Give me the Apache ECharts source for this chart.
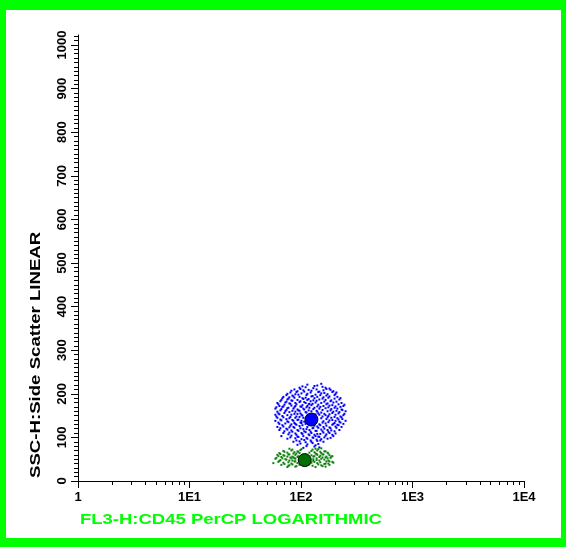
<!DOCTYPE html>
<html><head><meta charset="utf-8">
<script src="https://cdn.jsdelivr.net/npm/echarts@6/dist/echarts.min.js"></script>
<style>html,body{margin:0;padding:0;background:#fff}#c{width:566px;height:547px}</style>
</head><body><div id="c"></div>
<script>
const xTickValues = [1, 10, 100, 1000, 10000];
const xTickLabels = ['1', '1E1', '1E2', '1E3', '1E4'];
const xMinorTicks = [2,3,4,5,6,7,8,9,20,30,40,50,60,70,80,90,200,300,400,500,600,700,800,900,2000,3000,4000,5000,6000,7000,8000,9000];
const yTickValues = [0,100,200,300,400,500,600,700,800,900,1000];
const yTickLabels = ['0','100','200','300','400','500','600','700','800','900','1000'];
const yMax = 1023;
const xTitle = 'FL3-H:CD45 PerCP LOGARITHMIC';
const yTitle = 'SSC-H:Side Scatter LINEAR';

const bluePoints = [
[114,221],[140,219],[152,223],
[97,214],[110,215],[129,213],[166,214],[180,212],
[82,207],[93,206],[105,208],[124,207],[146,205],[159,208],[195,206],
[75.5,200],[89,199],[101,201],[114,200],[135,198],[152,201],[173,199],[204,200],
[69.5,193],[78.7,192],[85.5,194],[97,193],[110,191],[124,194],[140,193],[159,192],[180,194],[212,193],
[66.7,186],[75.5,187],[82,185],[93,186],[105,188],[114,186],[129,185],[146,187],[166,186],[187,185],[221,187],
[61.4,179],[72.4,180],[78.7,178],[89,179],[97,181],[110,179],[119,177],[135,180],[152,179],[173,178],[195,180],[231,179],
[64,172],[69.5,171],[82,173],[89,172],[101,170],[114,172],[124,174],[140,171],[159,172],[180,173],[204,171],[240,172],
[58.9,166],[66.7,165],[75.5,167],[85.5,166],[93,164],[105,166],[119,168],[129,165],[146,166],[166,167],[187,165],[212,166],[231,164],
[61.4,159],[72.4,160],[78.7,158],[89,159],[97,161],[110,158],[124,160],[140,159],[152,157],[173,160],[195,159],[221,158],[251,160],
[58.9,152],[64,153],[75.5,151],[82,152],[93,154],[101,152],[114,150],[135,153],[146,152],[166,151],[180,153],[204,152],[240,151],
[61.4,145],[69.5,146],[78.7,144],[89,145],[97,147],[105,145],[152,144],[173,146],[187,145],[212,144],[231,146],
[58.9,138],[66.7,139],[75.5,137],[85.5,138],[93,140],[101,138],[159,137],[180,139],[204,138],[221,136],[251,138],
[64,131],[72.4,132],[82,130],[89,131],[101,133],[110,131],[146,130],[166,132],[195,131],[212,129],[240,131],
[61.4,124],[69.5,125],[78.7,123],[85.5,124],[97,126],[114,124],[129,122],[140,125],[159,124],[180,123],[204,125],[231,124],
[64,117],[75.5,118],[82,116],[93,117],[105,119],[119,117],[135,115],[152,118],[173,117],[187,116],[221,117],
[69.5,110],[78.7,111],[89,109],[101,110],[110,112],[124,110],[140,108],[159,111],[180,110],[204,109],
[66.7,103],[82,104],[93,102],[105,103],[119,105],[135,103],[146,101],[166,104],[195,103],
[75.5,97],[89,98],[101,96],[114,97],[129,99],[152,96],[173,97],
[85.5,90],[97,91],[110,89],[124,90],[140,92],[159,90],
[93,83],[114,84],[135,82],
[105,76],[146,77],
[103,217],[132,218],[156,216],
[87.3,210],[98.8,211],[117,209],[138,210],[169,211],[184,209],
[80.3,203],[91,204],[107,205],[122,203],[143,204],[162,202],[191,204],[208,203],
[74,197],[83.7,196],[94.8,198],[112,197],[127,195],[149,197],[169,196],[200,197],
[68.1,190],[77.1,189],[87.3,191],[103,190],[117,188],[132,190],[156,189],[176,191],[200,189],[226,190],
[65.3,183],[74,182],[83.7,184],[98.8,183],[107,181],[122,183],[138,184],[162,182],[184,183],[208,182],
[62.7,176],[71,175],[80.3,177],[91,176],[103,174],[117,176],[127,177],[143,175],[169,176],[191,174],[217,176],[245,175],
[60.1,169],[68.1,170],[77.1,168],[87.3,169],[98.8,171],[112,169],[132,168],[149,170],[176,169],[200,168],[226,170],
[65.3,162],[74,163],[83.7,161],[94.8,162],[107,164],[117,162],[138,161],[156,163],[184,162],[208,161],[235,163],
[62.7,155],[71,156],[87.3,154],[98.8,155],[112,157],[143,155],[162,154],[191,156],[217,155],[245,154],
[60.1,148],[68.1,149],[80.3,147],[91,148],[103,150],[156,148],[176,149],[200,147],[226,148],
[65.3,141],[74,142],[83.7,140],[94.8,141],[169,142],[191,140],[217,141],[235,142],
[62.7,134],[77.1,135],[87.3,133],[98.8,134],[107,136],[156,134],[176,135],[200,133],[226,134],
[68.1,128],[80.3,127],[91,129],[103,128],[117,130],[132,127],[149,128],[169,127],[191,129],[217,128],
[65.3,121],[74,120],[87.3,122],[98.8,121],[112,119],[127,121],[143,122],[162,120],[184,121],[208,122],
[71,114],[83.7,113],[94.8,115],[107,114],[122,113],[138,115],[156,114],[176,113],[200,114],
[77.1,107],[91,106],[103,108],[117,107],[132,106],[149,108],[169,107],[191,106],
[80.3,100],[94.8,101],[112,99],[127,100],[143,102],[162,100],[184,99],
[91,93],[107,94],[122,93],[138,95],[149,93],
[98.8,86],[127,87],[143,85],
[112,80],[132,79]
];

const greenPoints = [
[78.7,74],[101,73],[135,74],[152,75],
[69.5,69],[82,70],[93,68],[124,69],[140,70],[166,68],
[64,64],[75.5,65],[85.5,63],[97,64],[119,65],[135,63],[152,64],[173,65],
[61.4,60],[69.5,59],[78.7,61],[89,60],[124,59],[140,60],[159,61],[180,59],
[66.7,55],[75.5,56],[85.5,54],[93,55],[129,56],[146,55],[166,54],[187,56],
[58.9,51],[72.4,50],[82,52],[89,51],[129,50],[152,51],[173,52],
[64,46],[78.7,47],[89,45],[129,46],[146,47],[180,45],
[56.5,41],[69.5,42],[82,40],[93,41],[124,42],[140,41],[166,40],[195,42],
[66.7,37],[78.7,36],[97,37],[119,38],[152,36],[180,37],
[75.5,32],[89,33],[135,32],[166,33],
[83.7,72],[98.8,71],[127,72],[143,73],
[71,67],[87.3,66],[94.8,67],[132,66],[149,67],[162,68],
[65.3,62],[77.1,61],[91,63],[138,62],[156,61],[176,63],
[62.7,57],[71,58],[83.7,56],[94.8,57],[132,57],[149,58],[169,56],[191,57],
[60.1,53],[68.1,52],[80.3,54],[87.3,53],[138,52],[156,54],[184,53],
[65.3,48],[74,49],[83.7,47],[138,48],[162,49],[176,47],
[62.7,44],[77.1,43],[87.3,45],[132,44],[149,43],[169,45],[191,44],
[71,39],[83.7,38],[98.8,40],[117,39],[143,38],[162,39],[176,40],
[77.1,35],[91,34],[127,35],[156,34]
];

const blueCenter = [[124, 141]];
const greenCenter = [[108, 48]];

const chart = echarts.init(document.getElementById('c'), null, {renderer: 'canvas'});
const labelFont = {color: '#000', fontWeight: 'bold', fontSize: 13, fontFamily: '"Liberation Sans", Arial, sans-serif'};

chart.setOption({
  animation: false,
  backgroundColor: '#00ff00',
  grid: {left: 78, top: 35, width: 446, height: 446, containLabel: false},
  graphic: [
    {type: 'rect', z: -100, silent: true, shape: {x: 6, y: 10, width: 555, height: 528}, style: {fill: '#ffffff'}},
    {type: 'text', silent: true, x: 80, y: 520, scaleX: 1.32,
      style: {text: xTitle, fill: '#00ff00', font: 'bold 14px "Liberation Sans", Arial, sans-serif', textAlign: 'left', textVerticalAlign: 'middle'}},
    {type: 'text', silent: true, x: 36, y: 478, rotation: Math.PI / 2, scaleX: 1.33,
      style: {text: yTitle, fill: '#000000', font: 'bold 14px "Liberation Sans", Arial, sans-serif', textAlign: 'left', textVerticalAlign: 'middle'}}
  ],
  xAxis: {
    type: 'log', logBase: 10, min: 1, max: 10000,
    axisLine: {show: true, onZero: false, lineStyle: {color: '#000', width: 1}},
    axisTick: {show: true, length: 7, lineStyle: {color: '#000'}},
    axisLabel: Object.assign({margin: 10, formatter: function (v) {
      const i = xTickValues.indexOf(Math.pow(10, Math.round(Math.log10(v))));
      return i >= 0 ? xTickLabels[i] : '';
    }}, labelFont),
    splitLine: {show: false}
  },
  yAxis: {
    type: 'value', min: 0, max: yMax, interval: 100,
    axisLine: {show: true, lineStyle: {color: '#000', width: 1}},
    axisTick: {show: true, length: 7, customValues: yTickValues, lineStyle: {color: '#000'}},
    minorTick: {show: true, splitNumber: 10, length: 4, lineStyle: {color: '#000'}},
    axisLabel: Object.assign({margin: 9, rotate: 90, customValues: yTickValues, formatter: function (v) {
      const i = yTickValues.indexOf(Math.round(v));
      return i >= 0 ? yTickLabels[i] : '';
    }}, labelFont),
    splitLine: {show: false},
    minorSplitLine: {show: false}
  },
  series: [
    {
      type: 'custom', silent: true, clip: false, z: 1,
      data: xMinorTicks.map(v => [v, 0]),
      renderItem: function (params, api) {
        const p = api.coord([api.value(0), 0]);
        const x = Math.round(p[0]) + 0.5;
        return {type: 'line', shape: {x1: x, y1: p[1], x2: x, y2: p[1] + 4}, style: {stroke: '#000', lineWidth: 1}};
      }
    },
    {type: 'scatter', data: bluePoints, symbol: 'rect', symbolSize: 2, itemStyle: {color: '#0000ff', opacity: 1}, silent: true},
    {type: 'scatter', data: greenPoints, symbol: 'rect', symbolSize: 2, itemStyle: {color: '#108010', opacity: 1}, silent: true},
    {type: 'scatter', data: blueCenter, symbol: 'circle', symbolSize: 13, z: 5, silent: true,
      itemStyle: {color: '#0000ff', borderColor: '#000', borderWidth: 1, opacity: 1}},
    {type: 'scatter', data: greenCenter, symbol: 'circle', symbolSize: 13, z: 5, silent: true,
      itemStyle: {color: '#007000', borderColor: '#000', borderWidth: 1, opacity: 1}}
  ]
});
</script>
</body></html>
